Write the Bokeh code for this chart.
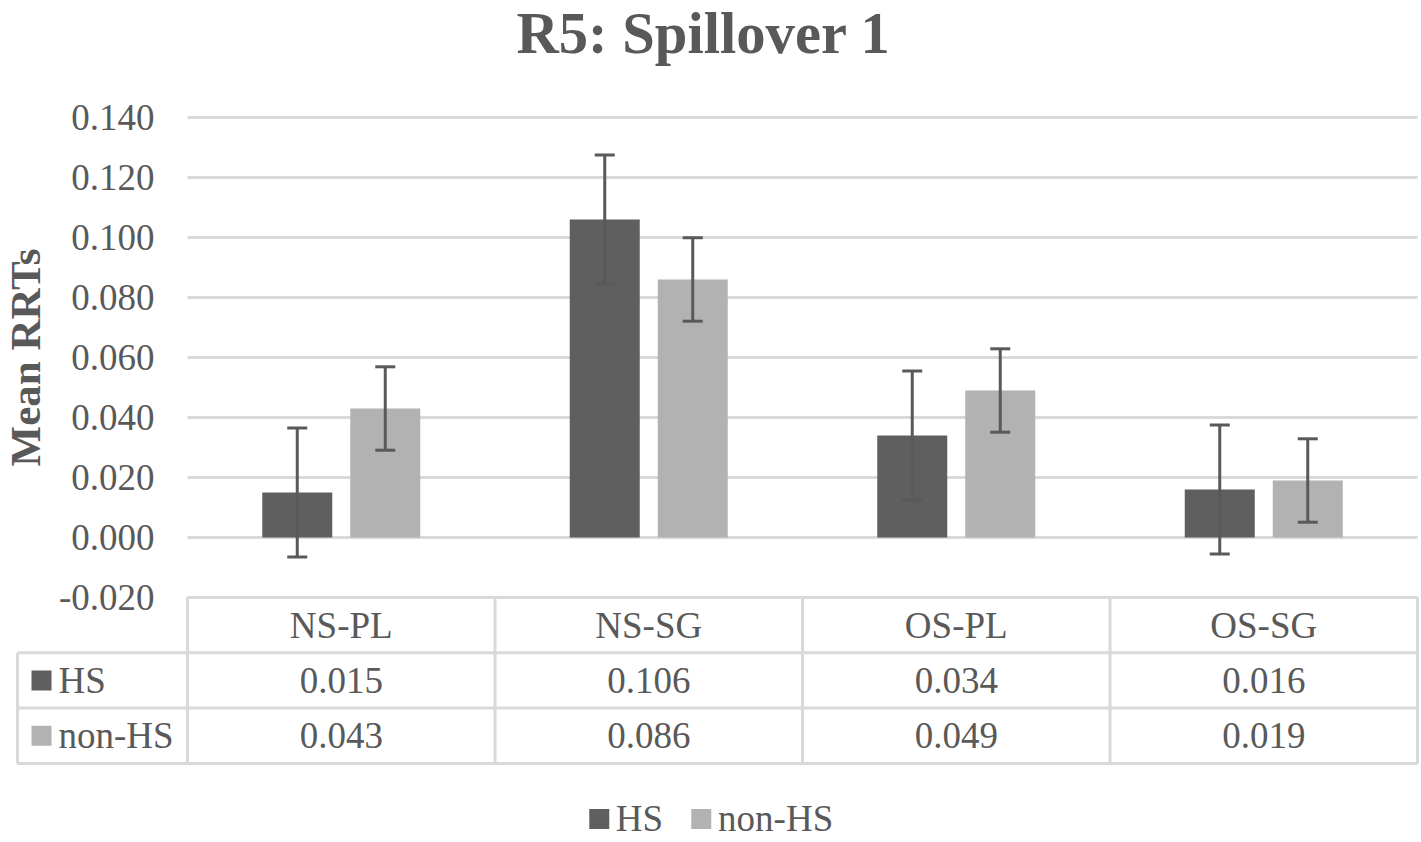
import numpy as np
from bokeh.plotting import figure
from bokeh.models import (Range1d, FixedTicker, NumeralTickFormatter, Whisker, TeeHead,
                          ColumnDataSource, Legend, LegendItem, Label)
from bokeh.embed import file_html
from bokeh.resources import INLINE
from bokeh.core.properties import value

# ---------------- data ----------------
categories = ["NS-PL", "NS-SG", "OS-PL", "OS-SG"]
series_names = ["HS", "non-HS"]
hs_values = [0.015, 0.106, 0.034, 0.016]
nonhs_values = [0.043, 0.086, 0.049, 0.019]
hs_errors = [0.0215, 0.0215, 0.0215, 0.0215]
nonhs_errors = [0.0139, 0.0139, 0.0139, 0.0139]
y_ticks = [-0.02, 0.0, 0.02, 0.04, 0.06, 0.08, 0.10, 0.12, 0.14]
title_text = "R5: Spillover 1"
y_label = "Mean RRTs"

# ---------------- style / layout ----------------
FONT = "'Liberation Serif', 'Times New Roman', Tinos, 'DejaVu Serif', serif"
TEXT = "#595959"
HS_COLOR = "#5f5f5f"
NONHS_COLOR = "#b2b2b2"
GRID = "#d9d9d9"
ERR = "#595959"
FS = "37px"

W, H = 1419, 840
PPU_X = 307.5                 # pixels per category
PPU_Y = 3000.0                # pixels per y unit
ROW_PX = 55.3                 # table row height
PLOT_LEFT, PLOT_BOTTOM = 187, 597   # picture position of (-0.5, y_ticks[0])
FR_LEFT, FR_RIGHT, FR_TOP, FR_BOTTOM = 0, W, 0, H


def px_x(px):
    return -0.5 + (px - PLOT_LEFT) / PPU_X


def px_y(py):
    return y_ticks[0] + (PLOT_BOTTOM - py) / PPU_Y


def px_row(py):
    return (py - PLOT_BOTTOM) / ROW_PX


n = len(categories)
idx = np.arange(n)
off = 44 / PPU_X
bw = 70 / PPU_X

p = figure(width=W, height=H,
           x_range=Range1d(px_x(FR_LEFT), px_x(FR_RIGHT)),
           y_range=Range1d(px_y(FR_BOTTOM), px_y(FR_TOP)),
           output_backend="svg", toolbar_location=None,
           x_axis_location=None, y_axis_location="left",
           min_border_left=0, min_border_right=0, min_border_top=0, min_border_bottom=0)
p.outline_line_color = None
p.grid.visible = False
p.extra_y_ranges = {"table": Range1d(px_row(FR_BOTTOM), px_row(FR_TOP))}

# title
p.add_layout(Label(x=px_x(516), y=px_y(33), text=title_text,
                   text_align="left", text_baseline="middle",
                   text_font=FONT, text_font_size="58.6px", text_font_style="bold",
                   text_color=TEXT))

# y axis: tick labels sit just left of the plot area
ya = p.yaxis[0]
ya.ticker = FixedTicker(ticks=y_ticks)
ya.formatter = NumeralTickFormatter(format="0.000")
ya.axis_line_color = None
ya.major_tick_line_color = None
ya.minor_tick_line_color = None
ya.major_tick_out = 0
ya.major_tick_in = 0
ya.major_label_standoff = -(154 - FR_LEFT)
ya.major_label_text_font = FONT
ya.major_label_text_font_size = FS
ya.major_label_text_color = TEXT

# axis title, centred on the value scale
p.text(x=[px_x(25)], y=[(y_ticks[0] + y_ticks[-1]) / 2], text=[y_label], angle=np.pi / 2,
       text_align="center", text_baseline="middle",
       text_font=value(FONT), text_font_size="43px", text_font_style="bold", text_color=TEXT)

# gridlines over the plot area
p.segment(x0=[-0.5] * len(y_ticks), x1=[n - 0.5] * len(y_ticks), y0=y_ticks, y1=y_ticks,
          line_color=GRID, line_width=3)

# bars
p.vbar(x=idx - off, top=hs_values, bottom=0, width=bw, fill_color=HS_COLOR, line_color=None)
p.vbar(x=idx + off, top=nonhs_values, bottom=0, width=bw, fill_color=NONHS_COLOR, line_color=None)

# error bars
for xs, vals, errs in ((idx - off, hs_values, hs_errors), (idx + off, nonhs_values, nonhs_errors)):
    src = ColumnDataSource(dict(
        x=list(xs),
        upper=[v + e for v, e in zip(vals, errs)],
        lower=[v - e for v, e in zip(vals, errs)]))
    p.add_layout(Whisker(base="x", upper="upper", lower="lower", source=src,
                         line_color=ERR, line_width=3, level="annotation",
                         upper_head=TeeHead(size=20, line_color=ERR, line_width=3),
                         lower_head=TeeHead(size=20, line_color=ERR, line_width=3)))

# ---------------- data table ----------------
leg_left = px_x(17)
nrows = len(series_names)
hy = [0] + [r + 1 for r in range(nrows)] + [nrows + 1]
hx0 = [-0.5] + [leg_left] * (nrows + 1)
p.segment(x0=hx0, x1=[n - 0.5] * len(hx0), y0=hy, y1=hy,
          line_color=GRID, line_width=3, y_range_name="table")
vx = [float(i) - 0.5 for i in idx] + [n - 0.5]
p.segment(x0=vx + [leg_left], x1=vx + [leg_left],
          y0=[0] * len(vx) + [1], y1=[nrows + 1] * (len(vx) + 1),
          line_color=GRID, line_width=3, y_range_name="table")

p.text(x=list(idx), y=[0.5] * n, text=categories, text_align="center", text_baseline="middle",
       text_font=value(FONT), text_font_size=FS, text_color=TEXT, y_range_name="table")
for r, vals in enumerate((hs_values, nonhs_values)):
    p.text(x=list(idx), y=[r + 1.5] * n, text=[f"{v:.3f}" for v in vals],
           text_align="center", text_baseline="middle",
           text_font=value(FONT), text_font_size=FS, text_color=TEXT, y_range_name="table")

renderers = []
for r, (name, col) in enumerate(zip(series_names, (HS_COLOR, NONHS_COLOR))):
    rr = p.rect(x=[px_x(41)], y=[r + 1.5], width=20, height=20,
                width_units="screen", height_units="screen",
                fill_color=col, line_color=None, y_range_name="table")
    renderers.append(rr)
p.text(x=[px_x(58)] * nrows, y=[r + 1.5 for r in range(nrows)], text=series_names,
       text_align="left", text_baseline="middle",
       text_font=value(FONT), text_font_size=FS, text_color=TEXT, y_range_name="table")

legend = Legend(items=[LegendItem(label=nm, renderers=[rr]) for nm, rr in zip(series_names, renderers)],
                location="bottom_center", orientation="horizontal",
                glyph_width=25, glyph_height=25, label_standoff=5, spacing=25,
                padding=0, margin=0, border_line_color=None, background_fill_alpha=0,
                label_text_font=FONT, label_text_font_size=FS, label_text_color=TEXT)
p.add_layout(legend)

open("out.html", "w").write(file_html(p, INLINE))
